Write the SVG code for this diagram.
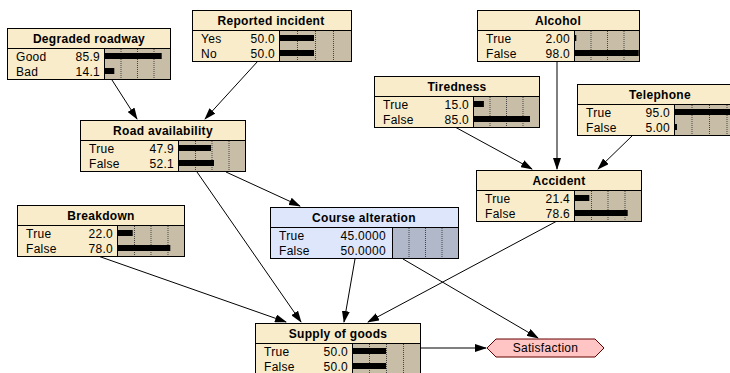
<svg xmlns="http://www.w3.org/2000/svg" width="730" height="373" viewBox="0 0 730 373">
<defs>
<style>
.box{fill:#f8ecca;stroke:#000;stroke-width:1}
.bararea{fill:#c8bda6;stroke:#000;stroke-width:1}
.grid{stroke:#444;stroke-width:1;stroke-dasharray:1,1}
.bar{fill:#000}
.div{stroke:#000;stroke-width:1}
.t{font-family:"Liberation Sans",Arial,sans-serif;font-size:12px;font-weight:bold;text-anchor:middle;letter-spacing:0.3px}
.l{font-family:"Liberation Sans",Arial,sans-serif;font-size:12px;letter-spacing:0.3px}
.v{font-family:"Liberation Sans",Arial,sans-serif;font-size:12px;text-anchor:end;letter-spacing:0.3px}
.edge{stroke:#000;stroke-width:1;fill:none;marker-end:url(#ah)}
.cbox{fill:#dde6fb;stroke:#000;stroke-width:1}
.carea{fill:#b1b8c9;stroke:#000;stroke-width:1}
</style>
<marker id="ah" markerWidth="12" markerHeight="8" refX="11" refY="4" orient="auto" markerUnits="userSpaceOnUse">
<path d="M0,0 L12,4 L0,8 Z" fill="#000"/>
</marker>
</defs>
<rect width="730" height="373" fill="#fff"/>

<g id="connectors">
<line class="edge" x1="112" y1="80" x2="137" y2="119"/>
<line class="edge" x1="258" y1="61" x2="205" y2="119"/>
<line class="edge" x1="557" y1="61" x2="557" y2="169"/>
<line class="edge" x1="455" y1="127" x2="532" y2="169"/>
<line class="edge" x1="633" y1="135" x2="598" y2="169"/>
<line class="edge" x1="226" y1="172" x2="300" y2="206"/>
<line class="edge" x1="197" y1="172" x2="301" y2="322"/>
<line class="edge" x1="98" y1="256" x2="286" y2="322"/>
<line class="edge" x1="355" y1="259" x2="344" y2="322"/>
<line class="edge" x1="403" y1="259" x2="538" y2="338"/>
<line class="edge" x1="557" y1="221" x2="368" y2="322"/>
<line class="edge" x1="421" y1="348" x2="486" y2="348"/>
</g>

<!-- Degraded roadway: L=7 T=28 R=170 bs=104 -->
<g id="degraded-roadway">
<rect class="box" x="7.5" y="28.5" width="163" height="51"/>
<line class="div" x1="7.5" y1="48.5" x2="170.5" y2="48.5"/>
<rect class="bararea" x="104.5" y="48.5" width="66" height="31"/>
<line class="grid" x1="121" y1="49" x2="121" y2="79"/>
<line class="grid" x1="137.5" y1="49" x2="137.5" y2="79"/>
<line class="grid" x1="154" y1="49" x2="154" y2="79"/>
<rect class="bar" x="105" y="53" width="56.7" height="6"/>
<rect class="bar" x="105" y="68" width="9.3" height="6"/>
<text class="t" x="89" y="43">Degraded roadway</text>
<text class="l" x="16" y="61">Good</text><text class="v" x="100" y="61">85.9</text>
<text class="l" x="16" y="76">Bad</text><text class="v" x="100" y="76">14.1</text>
</g>

<!-- Reported incident: L=192 T=10 R=351 bs=279 -->
<g id="reported-incident">
<rect class="box" x="192.5" y="10.5" width="159" height="51"/>
<line class="div" x1="192.5" y1="30.5" x2="351.5" y2="30.5"/>
<rect class="bararea" x="279.5" y="30.5" width="72" height="31"/>
<line class="grid" x1="297.5" y1="31" x2="297.5" y2="61"/>
<line class="grid" x1="315.5" y1="31" x2="315.5" y2="61"/>
<line class="grid" x1="333.5" y1="31" x2="333.5" y2="61"/>
<rect class="bar" x="280" y="35" width="34" height="6"/>
<rect class="bar" x="280" y="50" width="34" height="6"/>
<text class="t" x="271" y="25">Reported incident</text>
<text class="l" x="201" y="43">Yes</text><text class="v" x="275" y="43">50.0</text>
<text class="l" x="201" y="58">No</text><text class="v" x="275" y="58">50.0</text>
</g>

<!-- Alcohol: L=477 T=10 R=639 bs=574 -->
<g id="alcohol">
<rect class="box" x="477.5" y="10.5" width="162" height="51"/>
<line class="div" x1="477.5" y1="30.5" x2="639.5" y2="30.5"/>
<rect class="bararea" x="574.5" y="30.5" width="65" height="31"/>
<line class="grid" x1="591" y1="31" x2="591" y2="61"/>
<line class="grid" x1="607.5" y1="31" x2="607.5" y2="61"/>
<line class="grid" x1="624" y1="31" x2="624" y2="61"/>
<rect class="bar" x="575" y="35" width="1.3" height="6"/>
<rect class="bar" x="575" y="50" width="63.7" height="6"/>
<text class="t" x="558" y="25">Alcohol</text>
<text class="l" x="486" y="43">True</text><text class="v" x="570" y="43">2.00</text>
<text class="l" x="486" y="58">False</text><text class="v" x="570" y="58">98.0</text>
</g>

<!-- Tiredness: L=374 T=76 R=539 bs=473 -->
<g id="tiredness">
<rect class="box" x="374.5" y="76.5" width="165" height="51"/>
<line class="div" x1="374.5" y1="96.5" x2="539.5" y2="96.5"/>
<rect class="bararea" x="473.5" y="96.5" width="66" height="31"/>
<line class="grid" x1="490" y1="97" x2="490" y2="127"/>
<line class="grid" x1="506.5" y1="97" x2="506.5" y2="127"/>
<line class="grid" x1="523" y1="97" x2="523" y2="127"/>
<rect class="bar" x="474" y="101" width="9.9" height="6"/>
<rect class="bar" x="474" y="116" width="56" height="6"/>
<text class="t" x="457" y="91">Tiredness</text>
<text class="l" x="383" y="109">True</text><text class="v" x="469" y="109">15.0</text>
<text class="l" x="383" y="124">False</text><text class="v" x="469" y="124">85.0</text>
</g>

<!-- Telephone: L=577 T=84 R=744 bs=674 -->
<g id="telephone">
<rect class="box" x="577.5" y="84.5" width="167" height="51"/>
<line class="div" x1="577.5" y1="104.5" x2="744.5" y2="104.5"/>
<rect class="bararea" x="674.5" y="104.5" width="70" height="31"/>
<line class="grid" x1="692" y1="105" x2="692" y2="135"/>
<line class="grid" x1="709.5" y1="105" x2="709.5" y2="135"/>
<line class="grid" x1="727" y1="105" x2="727" y2="135"/>
<rect class="bar" x="675" y="109" width="66.5" height="6"/>
<rect class="bar" x="675" y="124" width="2" height="6"/>
<text class="t" x="660" y="99">Telephone</text>
<text class="l" x="586" y="117">True</text><text class="v" x="670" y="117">95.0</text>
<text class="l" x="586" y="132">False</text><text class="v" x="670" y="132">5.00</text>
</g>

<!-- Road availability: L=80 T=120 R=245 bs=178 -->
<g id="road-availability">
<rect class="box" x="80.5" y="120.5" width="165" height="51"/>
<line class="div" x1="80.5" y1="140.5" x2="245.5" y2="140.5"/>
<rect class="bararea" x="178.5" y="140.5" width="67" height="31"/>
<line class="grid" x1="195.5" y1="141" x2="195.5" y2="171"/>
<line class="grid" x1="212" y1="141" x2="212" y2="171"/>
<line class="grid" x1="229" y1="141" x2="229" y2="171"/>
<rect class="bar" x="179" y="145" width="32" height="6"/>
<rect class="bar" x="179" y="160" width="35" height="6"/>
<text class="t" x="163" y="135">Road availability</text>
<text class="l" x="89" y="153">True</text><text class="v" x="174" y="153">47.9</text>
<text class="l" x="89" y="168">False</text><text class="v" x="174" y="168">52.1</text>
</g>

<!-- Accident: L=476 T=170 R=641 bs=574 -->
<g id="accident">
<rect class="box" x="476.5" y="170.5" width="165" height="51"/>
<line class="div" x1="476.5" y1="190.5" x2="641.5" y2="190.5"/>
<rect class="bararea" x="574.5" y="190.5" width="67" height="31"/>
<line class="grid" x1="591.5" y1="191" x2="591.5" y2="221"/>
<line class="grid" x1="608" y1="191" x2="608" y2="221"/>
<line class="grid" x1="625" y1="191" x2="625" y2="221"/>
<rect class="bar" x="575" y="195" width="14.3" height="6"/>
<rect class="bar" x="575" y="210" width="52.7" height="6"/>
<text class="t" x="559" y="185">Accident</text>
<text class="l" x="485" y="203">True</text><text class="v" x="570" y="203">21.4</text>
<text class="l" x="485" y="218">False</text><text class="v" x="570" y="218">78.6</text>
</g>

<!-- Breakdown: L=17 T=205 R=184 bs=117 -->
<g id="breakdown">
<rect class="box" x="17.5" y="205.5" width="167" height="51"/>
<line class="div" x1="17.5" y1="225.5" x2="184.5" y2="225.5"/>
<rect class="bararea" x="117.5" y="225.5" width="67" height="31"/>
<line class="grid" x1="134.5" y1="226" x2="134.5" y2="256"/>
<line class="grid" x1="151" y1="226" x2="151" y2="256"/>
<line class="grid" x1="168" y1="226" x2="168" y2="256"/>
<rect class="bar" x="118" y="230" width="14.7" height="6"/>
<rect class="bar" x="118" y="245" width="52.3" height="6"/>
<text class="t" x="101" y="220">Breakdown</text>
<text class="l" x="26" y="238">True</text><text class="v" x="113" y="238">22.0</text>
<text class="l" x="26" y="253">False</text><text class="v" x="113" y="253">78.0</text>
</g>

<!-- Course alteration: L=270 T=207 R=458 gs=392 -->
<g id="course-alteration">
<rect class="cbox" x="270.5" y="207.5" width="188" height="51"/>
<line class="div" x1="270.5" y1="227.5" x2="458.5" y2="227.5"/>
<rect class="carea" x="392.5" y="227.5" width="66" height="31"/>
<line class="grid" x1="409" y1="228" x2="409" y2="258"/>
<line class="grid" x1="425.5" y1="228" x2="425.5" y2="258"/>
<line class="grid" x1="442" y1="228" x2="442" y2="258"/>
<text class="t" x="364" y="222">Course alteration</text>
<text class="l" x="279" y="240">True</text><text class="v" x="386" y="240">45.0000</text>
<text class="l" x="279" y="255">False</text><text class="v" x="386" y="255">50.0000</text>
</g>

<!-- Supply of goods: L=255 T=323 R=420 bs=352 -->
<g id="supply-of-goods">
<rect class="box" x="255.5" y="323.5" width="165" height="51"/>
<line class="div" x1="255.5" y1="343.5" x2="420.5" y2="343.5"/>
<rect class="bararea" x="352.5" y="343.5" width="68" height="31"/>
<line class="grid" x1="369.5" y1="344" x2="369.5" y2="374"/>
<line class="grid" x1="386.5" y1="344" x2="386.5" y2="374"/>
<line class="grid" x1="403.5" y1="344" x2="403.5" y2="374"/>
<rect class="bar" x="353" y="348" width="33" height="6"/>
<rect class="bar" x="353" y="363" width="33" height="6"/>
<text class="t" x="338" y="338">Supply of goods</text>
<text class="l" x="264" y="356">True</text><text class="v" x="348" y="356">50.0</text>
<text class="l" x="264" y="371">False</text><text class="v" x="348" y="371">50.0</text>
</g>

<g id="satisfaction">
<polygon points="487,348 496,339 595,339 604,348 595,357 496,357" fill="#ffc4c4" stroke="#600" stroke-width="1"/>
<text class="t" x="545.5" y="352" style="font-weight:normal">Satisfaction</text>
</g>
</svg>
